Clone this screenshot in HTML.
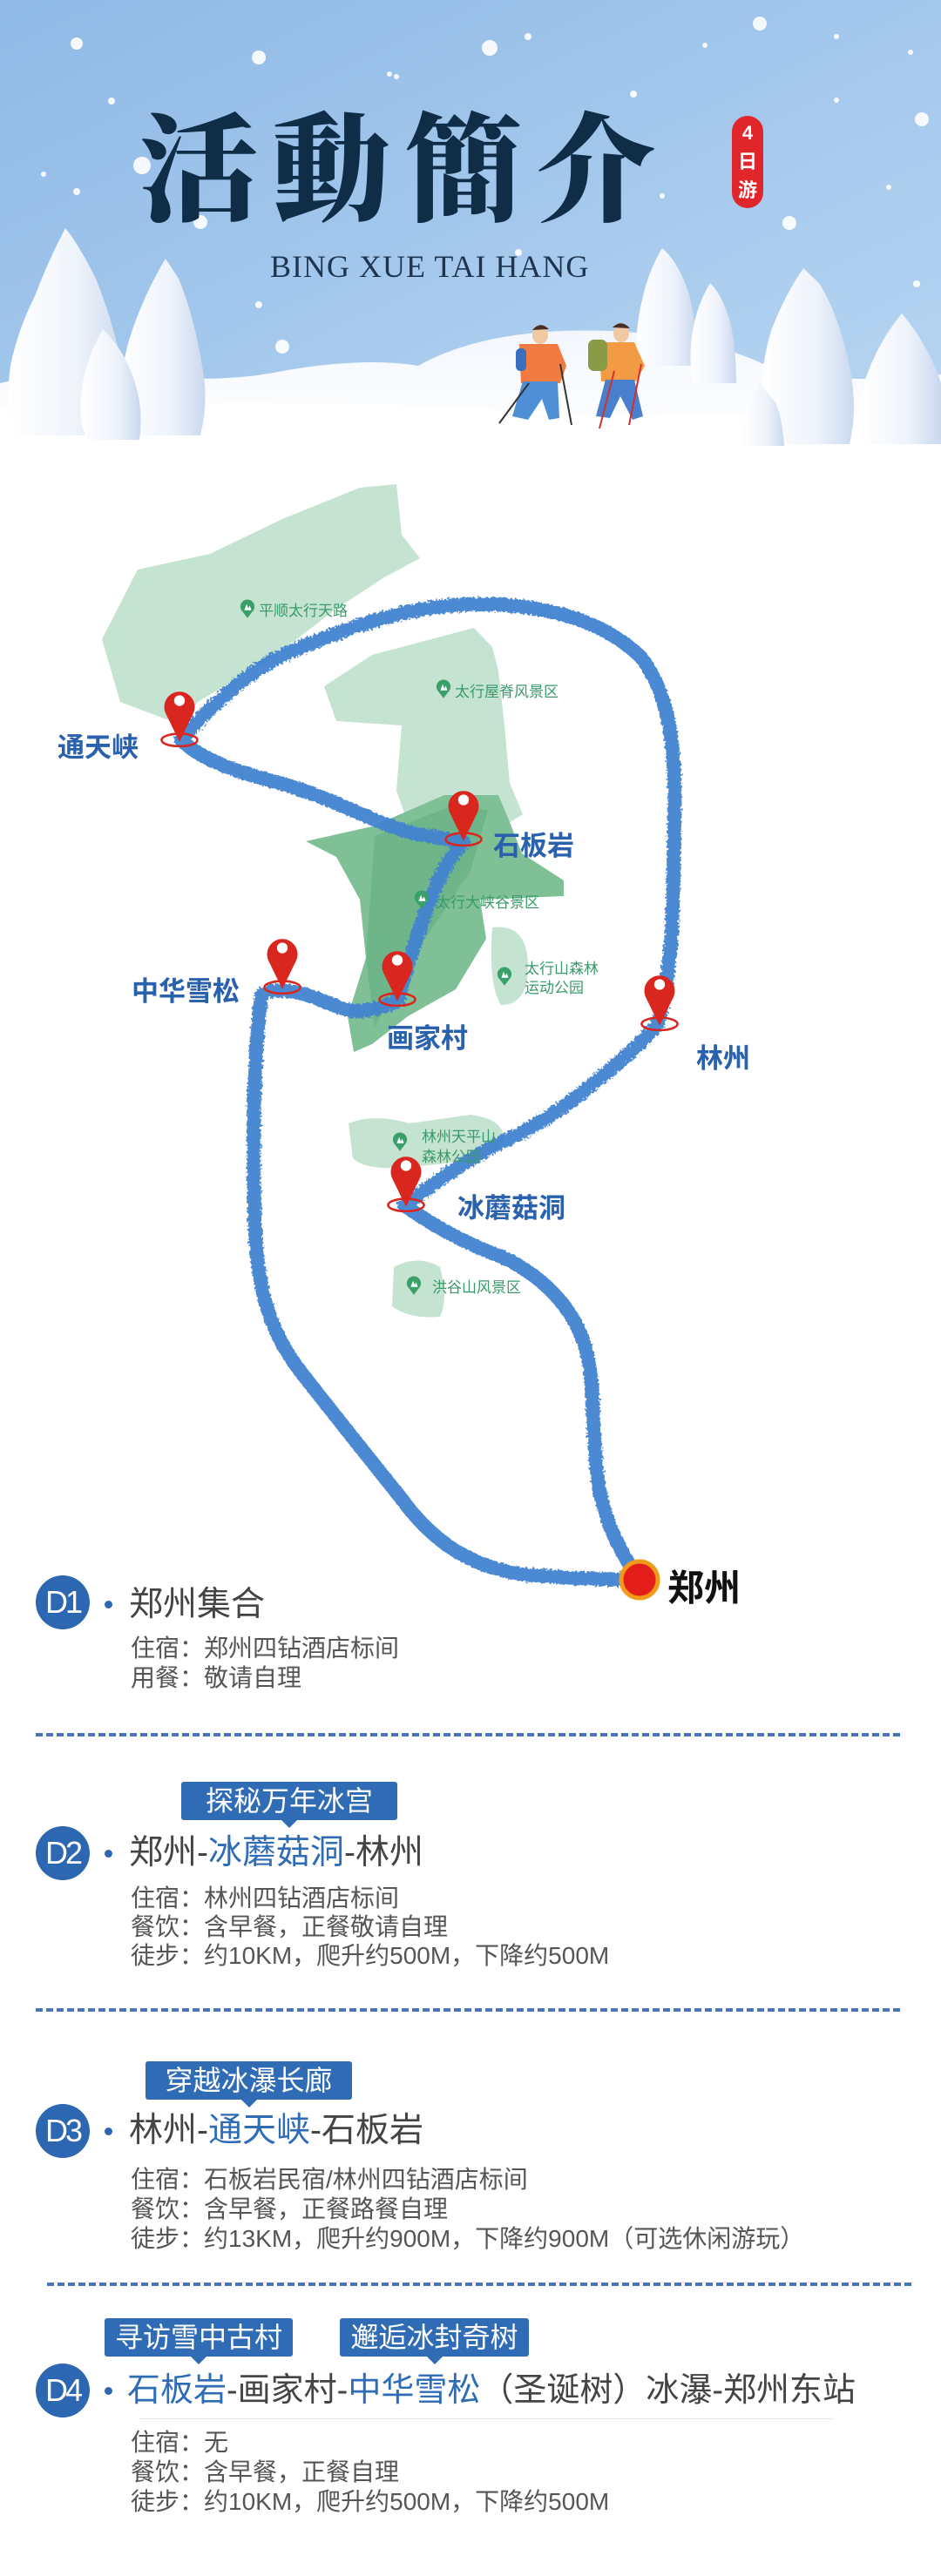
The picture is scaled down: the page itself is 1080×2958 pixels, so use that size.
<!DOCTYPE html>
<html><head><meta charset="utf-8">
<style>
*{margin:0;padding:0;box-sizing:border-box}
body{width:1080px;height:2958px;position:relative;background:#fff;font-family:"Liberation Sans","Noto Sans CJK SC",sans-serif;overflow:hidden}
.a{position:absolute;white-space:nowrap}
.dc{position:absolute;width:62px;height:62px;border-radius:50%;background:#2d66b1;color:#fff;font-size:36px;line-height:62px;text-align:center;letter-spacing:-3px;font-family:"Liberation Sans Narrow","Liberation Sans",sans-serif}
.dot{position:absolute;width:9px;height:9px;border-radius:50%;background:#2d66b1}
.tt{position:absolute;white-space:nowrap;font-size:39px;color:#444;line-height:46px}
.tt b{font-weight:normal;color:#2e6cb6}
.ln{position:absolute;white-space:nowrap;font-size:28px;color:#555;line-height:34px}
.tag{position:absolute;height:44px;background:#2f6cb5;color:#fff;font-size:32px;line-height:44px;text-align:center;border-radius:3px}
.tag:after{content:"";position:absolute;left:50%;bottom:-9px;margin-left:-9px;border-left:9px solid transparent;border-right:9px solid transparent;border-top:9px solid #2f6cb5}
.dash{position:absolute;height:0;border-top:4px dashed #4a76b8}
.ml{position:absolute;white-space:nowrap;font-weight:bold;color:#2a61ad;font-size:31px}
</style></head><body>

<!-- HEADER -->
<svg class="a" style="left:0;top:0" width="1080" height="512" viewBox="0 0 1080 512">
<defs>
<linearGradient id="sky" x1="0" y1="0" x2="1" y2="1"><stop offset="0" stop-color="#8fb9e6"/><stop offset="1" stop-color="#b8d6f2"/></linearGradient>
<linearGradient id="tr" x1="0" y1="0" x2="1" y2="0"><stop offset="0" stop-color="#ffffff"/><stop offset="0.6" stop-color="#eef3fb"/><stop offset="1" stop-color="#c9d8ee"/></linearGradient>
<linearGradient id="gr" x1="0" y1="0" x2="0" y2="1"><stop offset="0" stop-color="#f3f7fd"/><stop offset="1" stop-color="#ffffff"/></linearGradient>
</defs>
<rect width="1080" height="512" fill="url(#sky)"/>
<g fill="#fff" opacity="0.9">
<circle cx="88" cy="50" r="7"/><circle cx="297" cy="66" r="8"/><circle cx="562" cy="55" r="9"/><circle cx="872" cy="27" r="8"/><circle cx="1058" cy="137" r="8"/><circle cx="163" cy="190" r="10"/><circle cx="230" cy="255" r="8"/><circle cx="906" cy="256" r="8"/><circle cx="790" cy="410" r="8"/><circle cx="324" cy="398" r="8"/><circle cx="128" cy="116" r="4"/><circle cx="455" cy="88" r="3"/><circle cx="606" cy="42" r="4"/><circle cx="809" cy="52" r="3"/><circle cx="960" cy="42" r="3"/><circle cx="1045" cy="60" r="3"/><circle cx="727" cy="108" r="4"/><circle cx="88" cy="220" r="4"/><circle cx="50" cy="200" r="3"/><circle cx="760" cy="225" r="3"/><circle cx="960" cy="115" r="3"/><circle cx="1020" cy="215" r="3"/><circle cx="595" cy="290" r="4"/><circle cx="297" cy="350" r="4"/><circle cx="1052" cy="326" r="4"/><circle cx="447" cy="85" r="3"/>
</g>
<path d="M0 440 Q80 420 180 432 Q260 440 330 425 Q420 410 480 420 Q560 375 700 380 Q820 385 900 430 Q980 440 1080 430 L1080 512 L0 512Z" fill="url(#gr)"/>
<path d="M0 470 Q300 455 560 470 Q800 485 1080 470 L1080 512 L0 512Z" fill="#fff"/>
<g fill="url(#tr)">
<path d="M75 262 Q55 300 40 340 Q20 380 12 420 Q5 470 20 500 L140 500 Q150 460 140 420 Q130 370 110 320 Q90 280 75 262Z"/>
<path d="M190 297 Q170 330 155 370 Q140 410 138 450 Q140 490 160 500 L230 500 Q240 460 232 420 Q222 360 205 320Z"/>
<path d="M118 378 Q100 410 95 440 Q88 480 100 505 L160 505 Q165 470 155 440 Q145 405 118 378Z"/>
<path d="M760 285 Q745 310 738 340 Q728 380 730 420 L800 420 Q800 370 790 335 Q778 300 760 285Z"/>
<path d="M815 325 Q800 350 795 380 Q790 410 795 440 L845 440 Q845 400 838 370 Q830 340 815 325Z"/>
<path d="M922 308 Q900 340 885 380 Q870 430 875 480 Q880 505 900 510 L975 510 Q985 470 975 420 Q962 360 940 325Z"/>
<path d="M1035 360 Q1010 390 995 430 Q982 470 990 510 L1080 510 L1080 440 Q1065 395 1035 360Z"/>
<path d="M872 440 Q858 465 852 490 L850 512 L900 512 Q898 480 890 462Z"/>
</g>
<g>
<ellipse cx="620" cy="385" rx="9" ry="10" fill="#f2c8a3"/><path d="M611 379 Q620 368 630 378Z" fill="#4a2e25"/>
<path d="M596 395 L640 395 L650 420 L643 440 L598 440Z" fill="#f07a40"/>
<rect x="592" y="400" width="12" height="26" rx="5" fill="#3a6fc0"/>
<path d="M600 438 L640 438 L642 480 L630 482 L622 458 L606 482 L588 478Z" fill="#4f8fd6"/>
<line x1="607" y1="440" x2="573" y2="486" stroke="#333" stroke-width="2"/><line x1="643" y1="418" x2="656" y2="488" stroke="#333" stroke-width="2"/>
<ellipse cx="713" cy="383" rx="9" ry="10" fill="#f2c8a3"/><path d="M703 376 Q713 366 723 377Z" fill="#4a2e25"/>
<path d="M688 393 L728 393 L740 420 L730 438 L690 438Z" fill="#f39a45"/>
<rect x="675" y="390" width="22" height="36" rx="7" fill="#8a9a45"/>
<path d="M695 436 L728 436 L738 478 L726 482 L712 455 L700 480 L684 478Z" fill="#4a7fce"/>
<line x1="705" y1="426" x2="688" y2="492" stroke="#d03030" stroke-width="2"/><line x1="736" y1="418" x2="722" y2="488" stroke="#d03030" stroke-width="2"/>
</g>
</svg>
<div class="a" style="left:160px;top:104px;font-family:'Noto Serif CJK SC','Noto Sans CJK TC',serif;font-weight:900;font-size:136px;line-height:160px;color:#0f2d46;letter-spacing:16px">活動簡介</div>
<div class="a" style="left:840px;top:133px;width:36px;height:106px;border-radius:18px;background:#e0262b;color:#fff;font-weight:bold;font-size:22px;line-height:33px;text-align:center;padding-top:3px">4<br>日<br>游</div>
<div class="a" style="left:310px;top:285px;font-family:'Liberation Serif',serif;font-size:36px;color:#1e3550;letter-spacing:1px">BING XUE TAI HANG</div>

<!-- MAP -->
<svg class="a" style="left:0;top:512px" width="1080" height="1360" viewBox="0 512 1080 1360">
<defs><filter id="fz"><feTurbulence type="fractalNoise" baseFrequency="0.35" numOctaves="2" result="n"/><feDisplacementMap in="SourceGraphic" in2="n" scale="7"/></filter>
<symbol id="pin" viewBox="0 0 46 70"><ellipse cx="23" cy="62" rx="20" ry="7" fill="none" stroke="#d9261f" stroke-width="2.5"/><path d="M23 64 L8 33 A17 17 0 1 1 38 33Z" fill="#d9261f"/><circle cx="23" cy="18" r="6" fill="#fff"/></symbol>
<symbol id="ic" viewBox="0 0 20 24"><path d="M10 24 L4 16 A9 9 0 1 1 16 16Z" fill="#3aa06a"/><path d="M6 14 L9 6 L12 14Z M10 14 L13 8 L15 14Z" fill="#fff"/></symbol>
</defs>
<g fill="#c5e3d1">
<path d="M455 556 L461 614 L482 641 L441 663 L386 699 L317 752 L227 806 L207 832 L138 806 L117 734 L158 654 L241 636 L324 596 L413 560Z"/>
<path d="M544 721 L565 743 L572 770 L579 833 L585 899 L600 935 L560 960 L470 950 L455 908 L461 833 L386 828 L372 788 L427 752Z"/>
<path d="M565 1065 Q606 1060 606 1110 Q606 1154 575 1154 Q560 1130 565 1065Z"/>
<path d="M400 1290 Q430 1278 470 1290 L540 1280 Q580 1285 578 1310 Q560 1337 520 1335 L470 1340 Q420 1345 405 1330Z"/>
<path d="M452 1455 Q480 1440 505 1455 Q515 1490 505 1512 Q470 1515 450 1500Z"/>
</g>
<path d="M351 966 L427 949 L510 913 L572 913 L585 944 L599 980 L647 1011 L647 1029 L551 1033 L558 1078 L523 1136 L468 1167 L427 1199 L406 1208 L399 1167 L420 1100 L413 1033 L386 984Z" fill="#7fc096"/>
<path d="M430 960 L520 925 L560 930 L540 1000 L500 1060 L460 1120 L430 1180 L420 1100Z" fill="#66b083" opacity="0.7"/>
<g fill="none" stroke="#4383d0" stroke-width="16" stroke-linecap="round" stroke-linejoin="round" filter="url(#fz)" opacity="0.95">
<path d="M208 850 C250 800 300 760 340 746 C400 720 460 700 520 695 C590 690 680 700 736 755 C770 800 776 860 774 950 C772 1030 775 1100 755 1176"/>
<path d="M208 850 C240 880 290 890 340 905 C400 925 440 950 480 958 C505 962 520 965 532 967"/>
<path d="M532 967 C510 990 498 1020 484 1060 C470 1100 462 1130 457 1148"/>
<path d="M457 1148 C430 1162 405 1165 385 1155 C360 1145 340 1135 310 1138"/>
<path d="M300 1142 C290 1220 290 1330 293 1416 C296 1480 310 1530 345 1575 C380 1620 420 1670 460 1720 C500 1775 545 1800 600 1808 C650 1812 700 1814 734 1814"/>
<path d="M755 1176 C735 1200 710 1220 680 1245 C650 1270 620 1290 590 1305 C550 1322 510 1350 464 1384"/>
<path d="M464 1384 C500 1410 540 1430 580 1445 C630 1470 665 1510 675 1560 C682 1600 680 1640 685 1690 C690 1740 710 1780 734 1814"/>
</g>
<g fill="#3a9a6a" font-size="17" font-family="Liberation Sans,Noto Sans CJK SC,sans-serif">
<use href="#ic" x="275" y="688" width="18" height="22"/><text x="297" y="707">平顺太行天路</text>
<use href="#ic" x="500" y="780" width="18" height="22"/><text x="522" y="800">太行屋脊风景区</text>
<use href="#ic" x="475" y="1022" width="18" height="22"/><text x="500" y="1042">太行大峡谷景区</text>
<use href="#ic" x="570" y="1110" width="18" height="22"/><text x="602" y="1118">太行山森林</text><text x="602" y="1140">运动公园</text>
<use href="#ic" x="450" y="1300" width="18" height="22"/><text x="484" y="1311">林州天平山</text><text x="484" y="1334">森林公园</text>
<use href="#ic" x="466" y="1465" width="18" height="22"/><text x="496" y="1484">洪谷山风景区</text>
</g>
<use href="#pin" x="182" y="786" width="48" height="72"/>
<use href="#pin" x="508" y="900" width="48" height="72"/>
<use href="#pin" x="300" y="1070" width="48" height="72"/>
<use href="#pin" x="432" y="1084" width="48" height="72"/>
<use href="#pin" x="733" y="1112" width="48" height="72"/>
<use href="#pin" x="442" y="1320" width="48" height="72"/>
<circle cx="734" cy="1814" r="21" fill="#e31d1a" stroke="#f29a1c" stroke-width="5"/>
</svg>
<div class="ml" style="left:66px;top:833px">通天峡</div>
<div class="ml" style="left:566px;top:946px">石板岩</div>
<div class="ml" style="left:151px;top:1113px">中华雪松</div>
<div class="ml" style="left:444px;top:1167px">画家村</div>
<div class="ml" style="left:799px;top:1190px">林州</div>
<div class="ml" style="left:525px;top:1362px">冰蘑菇洞</div>
<div class="a" style="left:766px;top:1790px;font-weight:bold;font-size:42px;color:#111">郑州</div>

<!-- DAYS -->
<div class="dc" style="left:41px;top:1809px">D1</div><div class="dot" style="left:120px;top:1838px"></div>
<div class="tt" style="left:148px;top:1820px">郑州集合</div>
<div class="ln" style="left:150px;top:1876px">住宿：郑州四钻酒店标间</div>
<div class="ln" style="left:150px;top:1910px">用餐：敬请自理</div>
<div class="dash" style="left:41px;top:1990px;width:992px"></div>

<div class="tag" style="left:208px;top:2046px;width:248px">探秘万年冰宫</div>
<div class="dc" style="left:41px;top:2097px">D2</div><div class="dot" style="left:120px;top:2124px"></div>
<div class="tt" style="left:148px;top:2105px">郑州-<b>冰蘑菇洞</b>-林州</div>
<div class="ln" style="left:150px;top:2163px">住宿：林州四钻酒店标间</div>
<div class="ln" style="left:150px;top:2196px">餐饮：含早餐，正餐敬请自理</div>
<div class="ln" style="left:150px;top:2229px">徒步：约10KM，爬升约500M，下降约500M</div>
<div class="dash" style="left:41px;top:2306px;width:992px"></div>

<div class="tag" style="left:167px;top:2367px;width:237px">穿越冰瀑长廊</div>
<div class="dc" style="left:41px;top:2416px">D3</div><div class="dot" style="left:120px;top:2443px"></div>
<div class="tt" style="left:148px;top:2424px">林州-<b>通天峡</b>-石板岩</div>
<div class="ln" style="left:150px;top:2486px">住宿：石板岩民宿/林州四钻酒店标间</div>
<div class="ln" style="left:150px;top:2520px">餐饮：含早餐，正餐路餐自理</div>
<div class="ln" style="left:150px;top:2554px">徒步：约13KM，爬升约900M，下降约900M（可选休闲游玩）</div>
<div class="dash" style="left:54px;top:2621px;width:992px"></div>

<div class="tag" style="left:120px;top:2662px;width:216px">寻访雪中古村</div>
<div class="tag" style="left:390px;top:2662px;width:217px">邂逅冰封奇树</div>
<div class="dc" style="left:41px;top:2714px">D4</div><div class="dot" style="left:120px;top:2741px"></div>
<div class="tt" style="left:146px;top:2722px;font-size:38px"><b>石板岩</b>-画家村-<b>中华雪松</b>（圣诞树）冰瀑-郑州东站</div>
<div class="a" style="left:160px;top:2777px;width:797px;height:1px;background:#e6e6e6"></div>
<div class="ln" style="left:150px;top:2788px">住宿：无</div>
<div class="ln" style="left:150px;top:2822px">餐饮：含早餐，正餐自理</div>
<div class="ln" style="left:150px;top:2856px">徒步：约10KM，爬升约500M，下降约500M</div>
</body></html>
